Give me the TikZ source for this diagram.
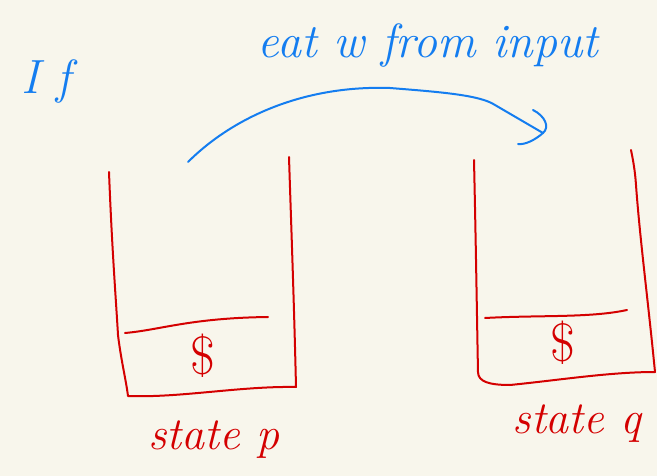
\documentclass[tikz,border=0pt]{standalone}
\usepackage{fontspec}
\setmainfont{Latin Modern Roman}
\begin{document}
\begin{tikzpicture}[x=1pt,y=-1pt,
  ink/.style={line width=2pt,line cap=round,line join=round},
  redink/.style={ink,draw=penred},
  blueink/.style={ink,draw=penblue},
  redtext/.style={text=penred,font=\itshape\fontsize{46}{46}\selectfont,inner sep=0pt},
  dollar/.style={text=penred,font=\fontsize{54}{54}\selectfont,inner sep=0pt},
  bluetext/.style={text=penblue,font=\itshape\fontsize{48}{48}\selectfont,inner sep=0pt}]
\definecolor{penred}{RGB}{212,0,0}
\definecolor{penblue}{RGB}{20,125,240}
\definecolor{paper}{RGB}{248,246,236}
\fill[paper] (0,0) rectangle (657,476);
\useasboundingbox (0,0) rectangle (657,476);

% left stack (state p)
\draw[redink] (109,172) .. controls (112,250) and (116,300) .. (118,335)
  .. controls (121,360) and (126,380) .. (128,396)
  .. controls (180,398) and (240,386) .. (296,387)
  .. controls (294,300) and (291,220) .. (289,157);
\draw[redink] (125,333) .. controls (160,330) and (190,318) .. (268,317);
\node[dollar] (dollarp) at (203,356) {\$};
\node[redtext] (statep) at (214,440) {state p};

% right stack (state q)
\draw[redink] (474,160) .. controls (476,250) and (477,320) .. (478,372)
  .. controls (478,382) and (490,385) .. (510,385)
  .. controls (560,380) and (610,372) .. (655,372)
  .. controls (648,300) and (640,240) .. (636,185)
  .. controls (635,170) and (633,160) .. (631,150);
\draw[redink] (485,318) .. controls (540,315) and (590,318) .. (627,310);
\node[dollar] (dollarq) at (563,343) {\$};
\node[redtext] (stateq) at (577,424) {state q};

% move between the two configurations
\node[bluetext] (cond) at (46,82) {I f};
\node[bluetext] (eat) at (428,46) {eat w from input};
\coordinate (from) at (188,162);
\coordinate (to) at (543,133);
\draw[blueink] (from) .. controls (230,120) and (300,85) .. (390,88)
  .. controls (440,92) and (480,95) .. (495,105) -- (to);
\draw[blueink] (533,110) .. controls (545,116) and (550,127) .. (543,133)
  .. controls (535,140) and (525,145) .. (518,144);
\end{tikzpicture}
\end{document}
